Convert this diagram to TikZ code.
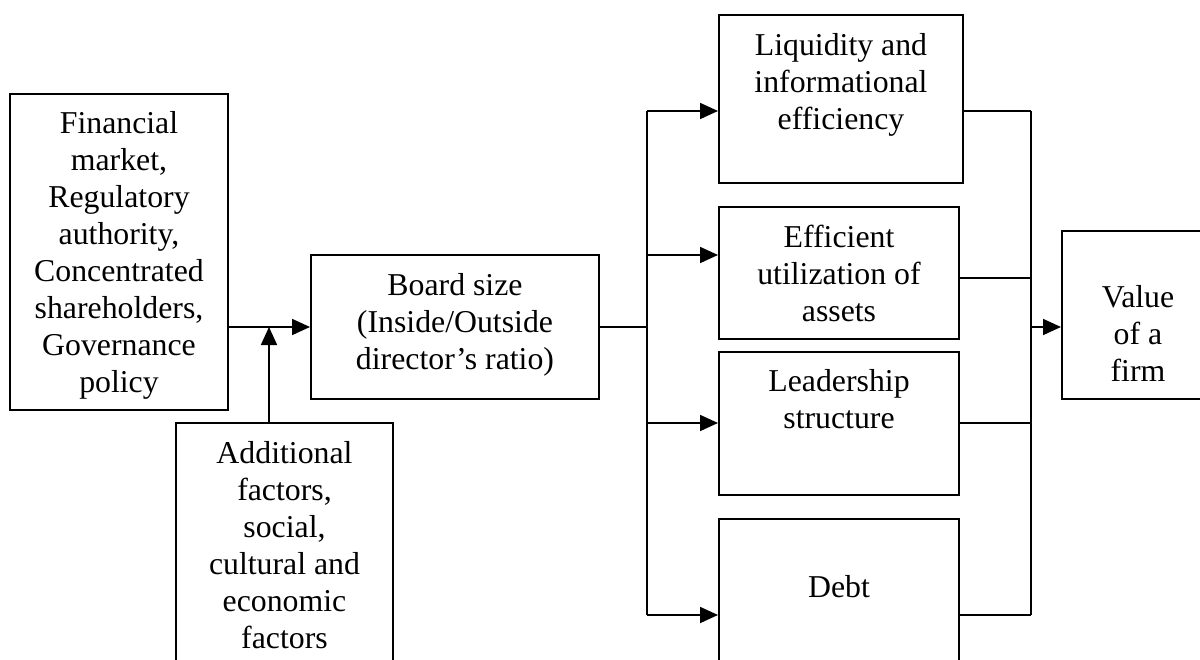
\documentclass[tikz,border=0pt]{standalone}
\usepackage{fontspec}
\setmainfont{Liberation Serif}
\usetikzlibrary{arrows.meta}
\newcommand\tp{\rule{0pt}{12pt}}
\begin{document}
\begin{tikzpicture}[x=0.5pt,y=-0.5pt,
  box/.style={draw, line width=1pt, inner sep=0pt, rectangle},
  txt/.style={align=center, inner sep=0pt, anchor=north, font=\fontsize{15.9}{18.5}\selectfont},
  conn/.style={line width=0.9pt},
  arr/.style={conn, -{Triangle[length=9pt,width=8pt]}}]
\path[use as bounding box, clip] (0,0) rectangle (1200,659);
% boxes
\node[box, minimum width=109pt, minimum height=158pt] (fin) at (119,252) {};
\node[box, minimum width=108.5pt, minimum height=138.5pt] (add) at (284.5,561.5) {};
\node[box, minimum width=144pt, minimum height=72pt] (board) at (455,327) {};
\node[box, minimum width=122pt, minimum height=84pt] (liq) at (841,99) {};
\node[box, minimum width=120pt, minimum height=66pt] (eff) at (839,273) {};
\node[box, minimum width=120pt, minimum height=71.5pt] (lead) at (839,423.5) {};
\node[box, minimum width=120pt, minimum height=90.5pt] (debt) at (839,609.5) {};
\node[box, minimum width=76pt, minimum height=84pt] (val) at (1138,315) {};
% texts
\node[txt] (finT) at (119,109) {\tp Financial\\market,\\Regulatory\\authority,\\Concentrated\\shareholders,\\Governance\\policy};
\node[txt] (addT) at (284.5,439) {\tp Additional\\factors,\\social,\\cultural and\\economic\\factors};
\node[txt] (boardT) at (455,271) {\tp Board size\\(Inside/Outside\\director’s ratio)};
\node[txt] (liqT) at (841,31) {\tp Liquidity and\\informational\\efficiency};
\node[txt] (effT) at (839,223) {\tp Efficient\\utilization of\\assets};
\node[txt] (leadT) at (839,367) {\tp Leadership\\structure};
\node[txt] (debtT) at (839,573) {\tp Debt};
\node[txt] (valT) at (1138,283) {\tp Value\\of a\\firm};
% junction coordinates
\coordinate (aT) at (269,423);
\coordinate (jL) at (647,327);
\coordinate (bL1) at (647,111);
\coordinate (bL2) at (647,255);
\coordinate (bL3) at (647,423);
\coordinate (bL4) at (647,615);
\coordinate (jR) at (1031,327);
\coordinate (bR1) at (1031,111);
\coordinate (bR2) at (1031,278);
\coordinate (bR3) at (1031,423);
\coordinate (bR4) at (1031,615);
% left connectors
\draw[arr] (fin.east |- board.west) -- (board.west);
\draw[arr] (aT) -- (aT |- board.west);
\draw[conn] (board.east) -- (jL);
\draw[conn] (bL1) -- (bL4);
\draw[arr] (bL1) -- (liq.west |- bL1);
\draw[arr] (bL2) -- (eff.west |- bL2);
\draw[arr] (bL3) -- (lead.west |- bL3);
\draw[arr] (bL4) -- (debt.west |- bL4);
% right connectors
\draw[conn] (liq.east |- bR1) -- (bR1);
\draw[conn] (eff.east |- bR2) -- (bR2);
\draw[conn] (lead.east |- bR3) -- (bR3);
\draw[conn] (debt.east |- bR4) -- (bR4);
\draw[conn] (bR1) -- (bR4);
\draw[arr] (jR) -- (val.west |- jR);
\end{tikzpicture}
\end{document}
